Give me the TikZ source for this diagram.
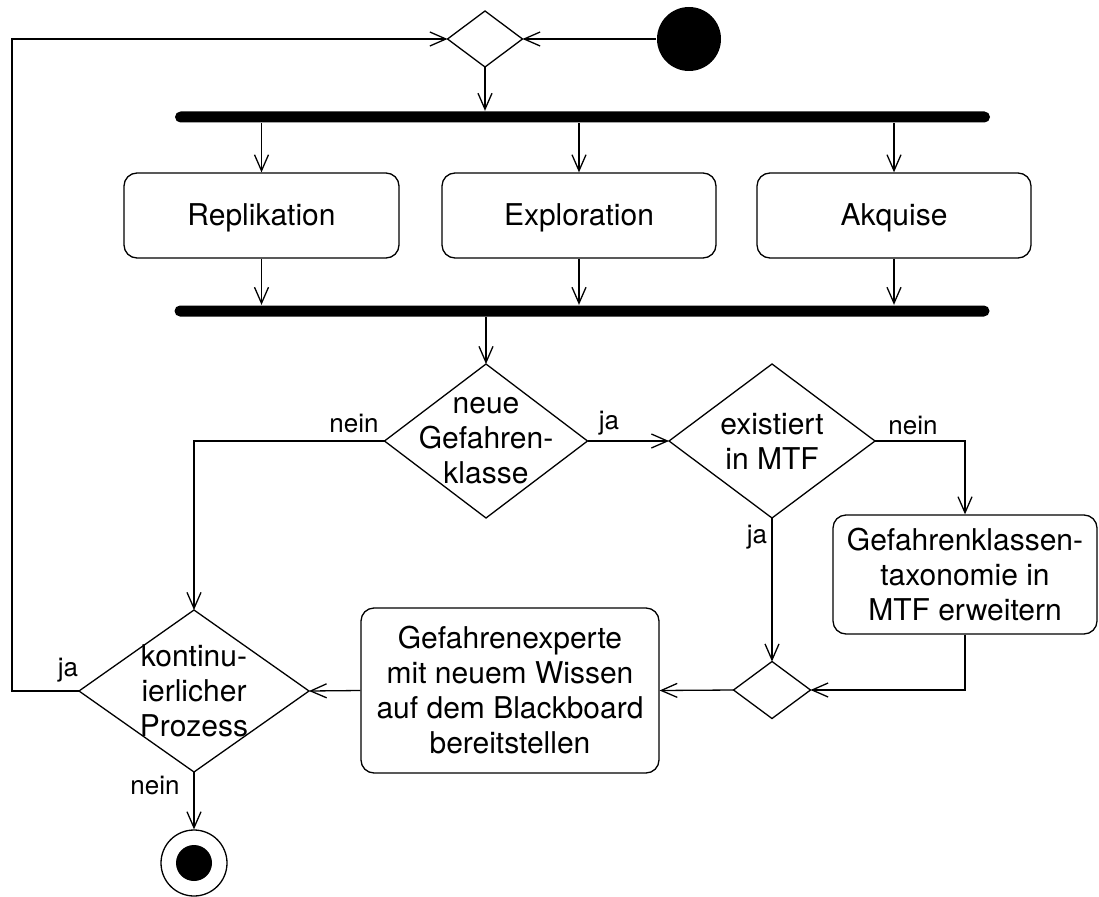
\documentclass[tikz,border=0pt]{standalone}
\usepackage{fontspec}
\setmainfont{TeX Gyre Heros}
\usetikzlibrary{shapes.geometric,arrows.meta}
\newcommand\diagfont{\fontsize{30}{35}\selectfont}
\newcommand\tagfont{\fontsize{26}{30}\selectfont}
\begin{document}
\begin{tikzpicture}[x=1pt,y=-1pt,line width=1.3pt,
  arr/.style={-{Straight Barb[length=16pt,width=14pt]}},
  act/.style={draw,rounded corners=13pt,align=center,font=\diagfont,inner sep=0pt},
  dia/.style={draw,diamond,inner sep=0pt,outer sep=0pt},
  dtext/.style={align=center,font=\diagfont,inner sep=0pt},
  bar/.style={fill=black,rounded corners=5.5pt,minimum width=815pt,minimum height=11pt,inner sep=0pt},
  lbl/.style={font=\tagfont,inner sep=0pt}]
\useasboundingbox (0,0) rectangle (1099,896);

% initial node and first merge
\node[circle,fill=black,minimum size=64pt,inner sep=0pt] (start) at (689,39) {};
\node[dia,minimum width=75pt,minimum height=56pt] (m1) at (485,39) {};

% fork and join bars
\node[bar] (f1) at (582.5,117) {};
\node[bar] (f2) at (582,311) {};

% parallel activities
\node[act,minimum width=275pt,minimum height=85pt,text height=22pt,text depth=3pt] (rep) at (261.5,215.5) {Replikation};
\node[act,minimum width=274pt,minimum height=85pt,text height=22pt,text depth=3pt] (expl) at (579,215.5) {Exploration};
\node[act,minimum width=274pt,minimum height=85pt,text height=22pt,text depth=3pt] (akq) at (894,215.5) {Akquise};

% decisions
\node[dia,minimum width=203pt,minimum height=154pt] (neue) at (486,441) {};
\node[dtext] (neuet) at (neue) {neue\\Gefahren-\\klasse};
\node[dia,minimum width=206pt,minimum height=154pt] (exi) at (772,441) {};
\node[dtext] (exit) at (exi) {existiert\\in MTF};
\node[dia,minimum width=77pt,minimum height=57pt] (m2) at (772,690) {};
\node[dia,minimum width=230pt,minimum height=162pt] (kont) at (194,691) {};
\node[dtext] (kontt) at (kont) {kontinu-\\ierlicher\\Prozess};

% further activities
\node[act,minimum width=264pt,minimum height=119pt] (gk) at (965,574.5) {Gefahrenklassen-\\taxonomie in\\MTF erweitern};
\node[act,minimum width=298pt,minimum height=165pt] (gex) at (510,690.5) {Gefahrenexperte\\mit neuem Wissen\\auf dem Blackboard\\bereitstellen};

% final node
\node[circle,draw,fill=white,minimum size=66pt,inner sep=0pt] (end) at (194,863) {};
\node[circle,fill=black,minimum size=36pt,inner sep=0pt] (endc) at (end) {};

% loop corner
\coordinate (loopx) at (12,0);

% connectors
\draw[arr] (start.west) -- (m1.east);
\draw[arr] (m1.south) -- (m1.south |- f1.north);
\draw[arr] (rep.north |- f1.south) -- (rep.north);
\draw[arr] (expl.north |- f1.south) -- (expl.north);
\draw[arr] (akq.north |- f1.south) -- (akq.north);
\draw[arr] (rep.south) -- (rep.south |- f2.north);
\draw[arr] (expl.south) -- (expl.south |- f2.north);
\draw[arr] (akq.south) -- (akq.south |- f2.north);
\draw[arr] (neue.north |- f2.south) -- (neue.north);
\draw[arr] (neue.east) -- (exi.west);
\draw[arr] (neue.west) -| (kont.north);
\draw[arr] (exi.east) -| (gk.north);
\draw[arr] (exi.south) -- (m2.north);
\draw[arr] (gk.south) |- (m2.east);
\draw[arr] (m2.west) -- (gex.east);
\draw[arr] (gex.west) -- (kont.east);
\draw[arr] (kont.south) -- (end.north);
\draw[arr] (kont.west) -- (kont.west -| loopx) |- (m1.west);

% guard labels
\node[lbl] (l1) at (354,423) {nein};
\node[lbl] (l2) at (609,423) {ja};
\node[lbl] (l3) at (913,426) {nein};
\node[lbl] (l4) at (757,537) {ja};
\node[lbl] (l5) at (68,670) {ja};
\node[lbl] (l6) at (155,785) {nein};
\end{tikzpicture}
\end{document}
